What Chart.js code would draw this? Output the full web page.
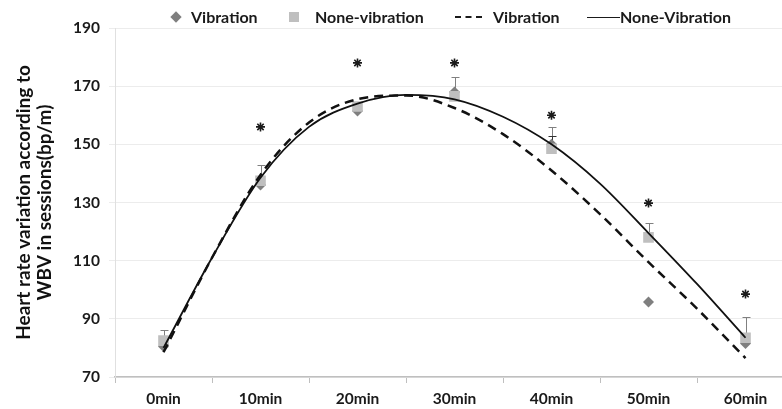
<!DOCTYPE html>
<html>
<head>
<meta charset="utf-8">
<title>Heart rate variation</title>
<script src="https://cdn.jsdelivr.net/npm/chart.js@4.4.1/dist/chart.umd.min.js"></script>
<style>
    body { margin: 0; overflow: hidden; background: #fff; }
    #wrap { position: relative; width: 810px; height: 409px; }
    .leg { position: absolute; top: 7px; height: 20px; line-height: 20px; font-family: Lato, sans-serif; font-weight: bold; font-size: 16px; color: #1a1a1a; white-space: nowrap; }
    .mark { position: absolute; }
</style>
</head>
<body>
<div id="wrap">
    <canvas id="chart"></canvas>
    <div class="mark" style="left:172px;top:13px;width:8px;height:8px;background:#7f7f7f;transform:rotate(45deg);"></div>
    <div class="leg" style="left:191px;">Vibration</div>
    <div class="mark" style="left:289px;top:12px;width:10px;height:10px;background:#bfbfbf;"></div>
    <div class="leg" style="left:315px;">None-vibration</div>
    <div class="mark" style="left:455px;top:16px;width:27px;border-top:2.5px dashed #1a1a1a;"></div>
    <div class="leg" style="left:493px;">Vibration</div>
    <div class="mark" style="left:587px;top:17px;width:33px;border-top:1.5px solid #1a1a1a;"></div>
    <div class="leg" style="left:620px;">None-Vibration</div>
</div>
<script>
const labels = ['0min', '10min', '20min', '30min', '40min', '50min', '60min'];
const vibration = [80.5, 136, 161.5, 168, 150, 95.8, 81.5];
const noneVibration = [82.5, 137.5, 163, 166.5, 148.5, 118, 83.5];
const errVib = [0, 0, 0, 0, 3, 0, 0];
const errNon = [3.5, 5.5, 0, 6.5, 7.5, 5, 7];
const stars = [null, 156, 178, 178, 160, 129.8, 98.5];

// trend lines every half step (5 min)
const curveX = [0, 0.5, 1, 1.5, 2, 2.5, 3, 3.5, 4, 4.5, 5, 5.5, 6];
const curveVib = [78.5, 111, 139.5, 157.5, 165.5, 166.8, 162.5, 153.5, 141, 126, 109.5, 93.5, 76.5];
const curveNon = [80, 111, 138.5, 156, 164, 167, 165.5, 159.5, 150, 136.5, 119.5, 102, 83.5];

const tickFont = { family: 'Lato, sans-serif', size: 15.5, weight: 'bold' };

const errorBars = {
    id: 'errorBars',
    beforeDatasetsDraw(chart) {
        const ctx = chart.ctx;
        const x = chart.scales.x;
        const y = chart.scales.y;
        const draw = (vals, errs, color) => {
            ctx.strokeStyle = color;
            ctx.lineWidth = 1;
            vals.forEach((v, i) => {
                if (!errs[i]) return;
                const px = Math.round(x.getPixelForValue(i)) + 0.5;
                const y0 = y.getPixelForValue(v);
                const y1 = Math.round(y.getPixelForValue(v + errs[i])) + 0.5;
                ctx.beginPath();
                ctx.moveTo(px, y0);
                ctx.lineTo(px, y1);
                ctx.moveTo(px - 4, y1);
                ctx.lineTo(px + 4, y1);
                ctx.stroke();
            });
        };
        ctx.save();
        draw(noneVibration, errNon, '#808080');
        draw(vibration, errVib, '#333333');
        ctx.restore();
    }
};

new Chart(document.getElementById('chart'), {
    type: 'line',
    data: {
        labels: labels,
        datasets: [
            {
                label: 'stars',
                data: stars,
                showLine: false,
                pointStyle: 'star',
                pointRadius: 4.5,
                borderColor: '#1a1a1a',
                borderWidth: 1.6,
                order: 0
            },
            {
                label: 'Vibration',
                data: curveX.map((v, i) => ({ x: v, y: curveVib[i] })),
                xAxisID: 'xl',
                borderColor: '#111',
                borderWidth: 2.5,
                borderDash: [9, 6],
                pointRadius: 0,
                cubicInterpolationMode: 'monotone',
                order: 1
            },
            {
                label: 'None-Vibration',
                data: curveX.map((v, i) => ({ x: v, y: curveNon[i] })),
                xAxisID: 'xl',
                borderColor: '#111',
                borderWidth: 1.8,
                pointRadius: 0,
                cubicInterpolationMode: 'monotone',
                order: 1
            },
            {
                label: 'None-vibration',
                data: noneVibration,
                showLine: false,
                pointStyle: 'rect',
                pointRadius: 7.5,
                backgroundColor: '#bfbfbf',
                borderColor: '#bfbfbf',
                borderWidth: 0,
                order: 2
            },
            {
                label: 'Vibration',
                data: vibration,
                showLine: false,
                pointStyle: 'rectRot',
                pointRadius: 5.5,
                backgroundColor: '#7f7f7f',
                borderColor: '#7f7f7f',
                borderWidth: 0,
                order: 3
            }
        ]
    },
    options: {
        responsive: true,
        maintainAspectRatio: false,
        animation: false,
        layout: { padding: { top: 28, right: 16, left: 0, bottom: 0 } },
        plugins: {
            legend: { display: false },
            tooltip: { enabled: false }
        },
        scales: {
            x: {
                offset: true,
                grid: {
                    offset: true,
                    drawOnChartArea: false,
                    tickLength: 6,
                    color: '#bfbfbf'
                },
                border: { color: '#bfbfbf', width: 1.5 },
                ticks: { color: '#1a1a1a', font: tickFont, padding: 7 },
                afterFit: (s) => { s.height = 32; }
            },
            xl: {
                type: 'linear',
                display: false,
                min: -0.5,
                max: 6.5
            },
            y: {
                min: 70,
                max: 190,
                ticks: { stepSize: 20, color: '#1a1a1a', font: tickFont, padding: 9 },
                grid: { color: '#ececec', tickLength: 6 },
                border: { color: '#e0e0e0' },
                title: {
                    display: true,
                    text: ['Heart rate variation according to', 'WBV in sessions(bp/m)'],
                    color: '#111',
                    font: { family: 'Lato, sans-serif', size: 19, weight: 'bold', lineHeight: 1.12 },
                    padding: { top: 13, bottom: 0 }
                },
                afterFit: (s) => { s.width = 115; }
            }
        }
    },
    plugins: [errorBars]
});
</script>
</body>
</html>
